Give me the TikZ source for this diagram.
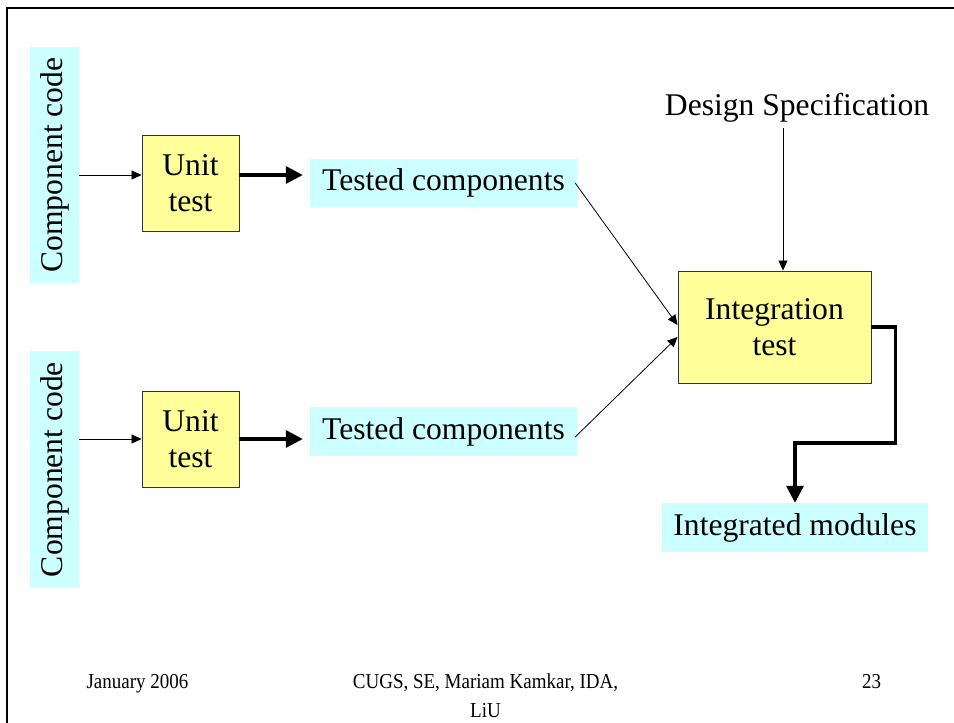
\documentclass[tikz,border=0pt]{standalone}
\usepackage{fontspec}
\setmainfont{Liberation Serif}
\usetikzlibrary{arrows.meta}
\definecolor{boxyellow}{HTML}{FFFF99}
\definecolor{boxcyan}{HTML}{CCFFFF}

\begin{document}
\begin{tikzpicture}[x=1pt,y=-1pt,
  big/.style={font=\fontsize{31.6}{36.5}\selectfont},
  procbox/.style={big, draw=black!80, line width=0.9pt, fill=boxyellow, inner sep=0pt, align=center},
  databox/.style={big, fill=boxcyan, inner sep=0pt},
  thinarr/.style={draw=black, line width=0.8pt, -{Triangle[length=10pt,width=9pt]}},
  thickarr/.style={draw=black, line width=3.2pt, line join=miter, -{Triangle[length=17pt,width=17pt]}},
  foot/.style={font=\fontsize{19}{22}\selectfont, anchor=base, inner sep=0pt}]

\useasboundingbox (0,0) rectangle (954,723);

% slide frame
\draw[line width=2pt] (954,8) -- (7,8) -- (7,723);

% upper branch
\node[databox, minimum width=49pt, minimum height=236pt] (cc1) at (54.5,165) {\rotatebox{90}{Component code}};
\node[procbox, minimum width=97pt, minimum height=96pt] (ut1) at (190.5,183) {Unit\\test};
\node[databox, minimum width=267pt, minimum height=48pt] (tc1) at (443.5,183) {Tested components};

% lower branch
\node[databox, minimum width=49pt, minimum height=237pt] (cc2) at (54.5,469.5) {\rotatebox{90}{Component code}};
\node[procbox, minimum width=97pt, minimum height=96pt] (ut2) at (190.5,439) {Unit\\test};
\node[databox, minimum width=267pt, minimum height=49pt] (tc2) at (443.5,431.5) {Tested components};

% integration
\node[big, anchor=base, inner sep=2pt] (ds) at (797,115) {Design Specification};
\node[procbox, minimum width=193pt, minimum height=112pt] (it) at (774.5,327) {Integration\\test};
\node[databox, minimum width=266pt, minimum height=49pt] (im) at (795,527.5) {Integrated modules};

% connectors
\draw[thinarr] (cc1.east |- 0,175) -- (ut1.west |- 0,175);
\draw[thickarr, shorten >=7pt] (ut1.east |- 0,175) -- (tc1.west |- 0,175);
\draw[thinarr] (cc2.east |- 0,439) -- (ut2.west |- 0,439);
\draw[thickarr, shorten >=7pt] (ut2.east |- 0,439) -- (tc2.west |- 0,439);

\draw[thinarr] ([xshift=-2pt]tc1.east) -- ([yshift=2pt]it.west);
\draw[thinarr] ([xshift=-2pt,yshift=-5.5pt]tc2.east) -- ([yshift=-10pt]it.west);
\draw[thinarr, shorten <=4pt] ([xshift=8.5pt]it.north |- ds.south) -- ([xshift=8.5pt]it.north);
\draw[thickarr] (it.east) -- ++(24,0) -- ++(0,116) -| (im.north);

% footer
\node[foot] (date) at (137.5,688) {\scalebox{1}[1.12]{January 2006}};
\node[foot] (org) at (485.5,688) {\scalebox{1}[1.12]{CUGS, SE, Mariam Kamkar, IDA,}};
\node[foot] (org2) at (485.5,717) {\scalebox{1}[1.12]{LiU}};
\node[foot] (page) at (871.5,688) {\scalebox{1}[1.12]{23}};
\end{tikzpicture}
\end{document}
